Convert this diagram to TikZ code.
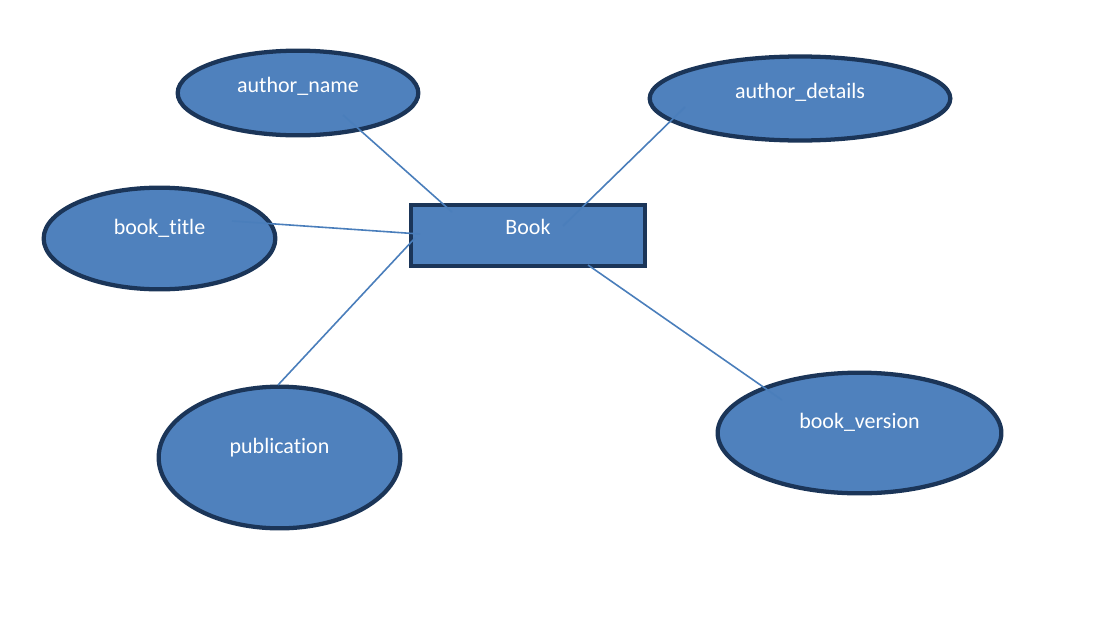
\documentclass[tikz,border=0pt]{standalone}
\usepackage{fontspec}
\setmainfont{Carlito}[Ligatures=NoCommon]
\usetikzlibrary{calc,shapes.geometric}
\definecolor{attrfill}{HTML}{4F81BD}
\definecolor{attrdraw}{HTML}{1B3558}
\definecolor{linkblue}{HTML}{4A7EBB}

\begin{document}
\begin{tikzpicture}[x=0.75pt,y=-0.75pt,inner sep=0pt,outer sep=0pt,
    every node/.style={font=\fontsize{16.5}{20}\selectfont},
    attr/.style={ellipse,fill=attrfill,draw=attrdraw,line width=3.2pt},
    entity/.style={rectangle,fill=attrfill,draw=attrdraw,line width=3.2pt},
    txt/.style={text=white},
    link/.style={draw=linkblue,line width=1.2pt}]
    \useasboundingbox (0,0) rectangle (1098,625);

    % entity
    \node[entity, minimum width=175.5pt, minimum height=45.75pt,
          label={[txt,yshift=6.4pt]center:Book}] (book) at (528,235.5) {};

    % attributes
    \node[attr, minimum width=180.5pt, minimum height=63.5pt,
          label={[txt,yshift=5.2pt]center:author\_name}] (an) at (298,93) {};
    \node[attr, minimum width=225.5pt, minimum height=63pt,
          label={[txt,yshift=4.9pt]center:author\_details}] (ad) at (800,98.5) {};
    \node[attr, minimum width=173.75pt, minimum height=76.25pt,
          label={[txt,yshift=7.5pt]center:book\_title}] (bt) at (159.5,238.5) {};
    \node[attr, minimum width=181.25pt, minimum height=106.25pt,
          label={[txt,yshift=7.5pt]center:publication}] (pb) at (279.5,457.5) {};
    \node[attr, minimum width=212.75pt, minimum height=90.5pt,
          label={[txt,yshift=8.2pt]center:book\_version}] (bv) at (859.5,433) {};

    % link ends
    \coordinate (an_out) at ($(an)+(45,22)$);
    \coordinate (an_in) at ($(book)+(-76,-23.5)$);
    \coordinate (ad_out) at ($(ad)+(-115,8.5)$);
    \coordinate (ad_in) at ($(book)+(35,-9.5)$);
    \coordinate (bt_out) at ($(bt)+(72.5,-17.5)$);
    \coordinate (bt_in) at ($(book)+(-108,-1.5)$);
    \coordinate (pb_out) at ($(pb)+(-1.5,-72.5)$);
    \coordinate (pb_in) at ($(book)+(-113,2.5)$);
    \coordinate (bv_out) at ($(bv)+(-77.5,-33)$);
    \coordinate (bv_in) at ($(book)+(60,29.5)$);

    % links
    \draw[link] (an_out) -- (an_in);
    \draw[link] (ad_out) -- (ad_in);
    \draw[link] (bt_out) -- (bt_in);
    \draw[link] (pb_out) -- (pb_in);
    \draw[link] (bv_out) -- (bv_in);
\end{tikzpicture}
\end{document}
